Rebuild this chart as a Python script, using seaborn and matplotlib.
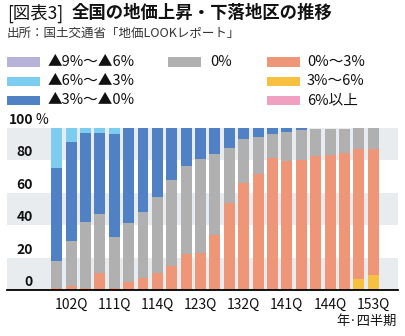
import matplotlib
matplotlib.use("Agg")
import matplotlib.pyplot as plt
import matplotlib.transforms as mtransforms
from matplotlib.patches import Rectangle
import seaborn as sns
import pandas as pd

# ---------------- data ----------------
quarters = ["101Q", "102Q", "103Q", "104Q", "111Q", "112Q", "113Q", "114Q",
            "121Q", "122Q", "123Q", "124Q", "131Q", "132Q", "133Q", "134Q",
            "141Q", "142Q", "143Q", "144Q", "151Q", "152Q", "153Q"]
tick_labels = ["102Q", "111Q", "114Q", "123Q", "132Q", "141Q", "144Q", "153Q"]

up6_plus = [0, 0, 0, 0, 0, 0, 0, 0, 0, 0, 0, 0, 0, 0, 0, 0, 0, 0, 0, 0, 0, 0.6, 0.9]
up3_6 = [0.4, 0.3, 0.3, 0.2, 0.2, 0.2, 0.2, 0.2, 0.2, 0.3, 0.4, 0.9, 0.3, 0.6,
         0.4, 0.9, 0.3, 0.3, 0.4, 0.4, 0.8, 6.1, 8.4]
up0_3 = [0.8, 2.4, 0.9, 10.5, 1.2, 4.9, 7.4, 10.5, 14.8, 21.9, 22.6, 33.1, 53.6,
         65.7, 71.2, 80.8, 79.5, 79.9, 82.5, 82.9, 83.6, 80.3, 77.7]
flat0 = [16.7, 27.5, 41.0, 36.2, 31.5, 36.5, 40.7, 46.9, 52.9, 54.3, 57.9, 49.7,
         34.0, 26.9, 23.1, 14.6, 17.9, 18.6, 16.7, 16.3, 15.2, 13.0, 13.0]
dn0_3 = [57.6, 61.2, 54.5, 50.2, 63.4, 58.4, 51.7, 42.4, 32.1, 23.5, 19.1, 16.3,
         12.1, 6.8, 5.3, 3.7, 2.3, 1.2, 0, 0, 0, 0, 0]
dn3_6 = [24.5, 8.6, 3.3, 2.9, 3.7, 0, 0, 0, 0, 0, 0, 0, 0, 0, 0, 0, 0, 0, 0, 0, 0, 0, 0]
dn6_9 = [0, 0, 0, 0, 0, 0, 0, 0, 0, 0, 0, 0, 0, 0, 0, 0, 0, 0, 0, 0, 0, 0, 0]

series_names = ["▲9%～▲6%", "▲6%～▲3%", "▲3%～▲0%", "0%", "0%～3%", "3%～6%", "6%以上"]
series_colors = ["#b7b2d8", "#7dcdf0", "#4f81c4", "#b0b0b0", "#f09678", "#f8c040", "#f0a0c0"]

# ---------------- style ----------------
sns.set_theme(style="white")
plt.rcParams["font.family"] = ["Noto Sans CJK JP", "DejaVu Sans"]

df = pd.DataFrame({
    "quarter": quarters,
    "6%以上": up6_plus,
    "3%～6%": up3_6,
    "0%～3%": up0_3,
    "0%": flat0,
    "▲3%～▲0%": dn0_3,
    "▲6%～▲3%": dn3_6,
    "▲9%～▲6%": dn6_9,
})
stack_order = ["6%以上", "3%～6%", "0%～3%", "0%", "▲3%～▲0%", "▲6%～▲3%", "▲9%～▲6%"]
cum = df[stack_order].cumsum(axis=1)
for c in stack_order:
    df["cum_" + c] = cum[c]

W, H = 406, 336
fig = plt.figure(figsize=(W / 100, H / 100), dpi=100)
ax = fig.add_axes([7 / W, 46 / H, 391 / W, 162 / H])

# background bands
for lo in (0, 40, 80):
    ax.axhspan(lo, lo + 20, color="#e9ecef", zorder=0, lw=0)

color_map = dict(zip(series_names, series_colors))
for name in reversed(stack_order):
    sns.barplot(data=df, x="quarter", y="cum_" + name, order=quarters,
                color=color_map[name], saturation=1, width=0.76, linewidth=0,
                errorbar=None, ax=ax, zorder=2)

ax.set_xlim(-3.45, 23.72)
ax.set_ylim(0, 100)
ax.set_xlabel("")
ax.set_ylabel("")
ax.set_yticks([])
ax.set_xticks([quarters.index(t) for t in tick_labels])
ax.set_xticklabels(tick_labels, fontsize=10, color="#111111")
ax.tick_params(axis="x", length=0, pad=6)
for s in ("top", "left", "right"):
    ax.spines[s].set_visible(False)
ax.spines["bottom"].set_color("black")
ax.spines["bottom"].set_linewidth(1.3)
ax.spines["bottom"].set_zorder(5)
ax.set_facecolor("white")

# y labels
trans = mtransforms.blended_transform_factory(ax.transAxes, ax.transData)
xr = 26 / 391
for v in (0, 20, 40, 60, 80, 100):
    ax.text(xr, v + 5.0, str(v), transform=trans, ha="right", va="center",
            fontsize=10, fontweight="bold", color="#111111", zorder=6, clip_on=False)
ax.text(29 / 391, 105.0, "%", transform=trans, ha="left", va="center",
        fontsize=10, color="#111111", clip_on=False)

# title & subtitle
fig.text(7 / W, 1 - 13 / H, "[図表3]", fontsize=12.5, color="#111111", va="center", ha="left")
fig.text(72 / W, 1 - 13 / H, "全国の地価上昇・下落地区の推移", fontsize=12.5,
         fontweight="bold", color="#111111", va="center", ha="left")
fig.text(7 / W, 1 - 33 / H, "出所：国土交通省「地価LOOKレポート」", fontsize=9,
         color="#333333", va="center", ha="left")

# legend (manual grid)
legend_layout = [
    ("▲9%～▲6%", 7, 48, 62), ("▲6%～▲3%", 7, 48, 81), ("▲3%～▲0%", 7, 48, 100),
    ("0%", 168, 210, 62),
    ("0%～3%", 267, 307, 62), ("3%～6%", 267, 307, 81), ("6%以上", 267, 307, 100),
]
for name, px, tx, cy in legend_layout:
    fig.patches.append(Rectangle((px / W, 1 - (cy + 4.5) / H), 33 / W, 9 / H,
                                 transform=fig.transFigure, facecolor=color_map[name],
                                 edgecolor="none"))
    fig.text(tx / W, 1 - cy / H, name, fontsize=10.5, color="#111111", va="center", ha="left")

fig.text(397 / W, 1 - 321 / H, "年·四半期", fontsize=9.5, color="#111111",
         va="center", ha="right")

fig.savefig("out.png", dpi=100)
